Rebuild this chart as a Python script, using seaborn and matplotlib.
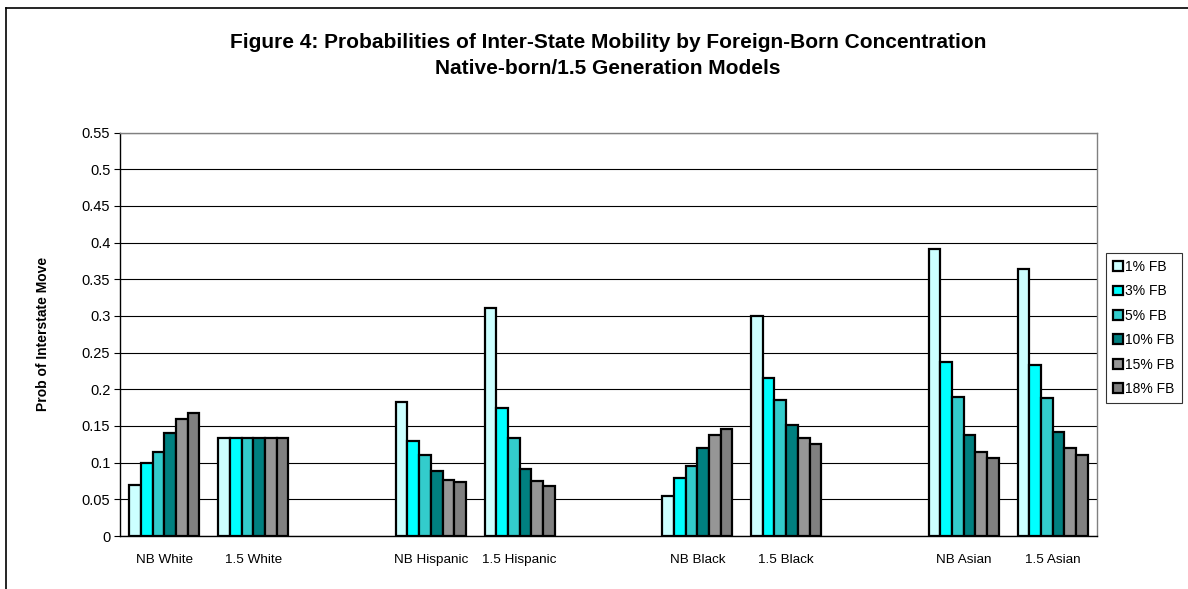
import numpy as np
import pandas as pd
import matplotlib
matplotlib.use("Agg")
import matplotlib.pyplot as plt
from matplotlib.lines import Line2D
import seaborn as sns

# categories (blank slots separate the race groups)
groups = ["NB White", "1.5 White", " ", "NB Hispanic", "1.5 Hispanic", "  ",
          "NB Black", "1.5 Black", "   ", "NB Asian", "1.5 Asian"]
data_groups = ["NB White", "1.5 White", "NB Hispanic", "1.5 Hispanic",
               "NB Black", "1.5 Black", "NB Asian", "1.5 Asian"]
levels = ["1% FB", "3% FB", "5% FB", "10% FB", "15% FB", "18% FB"]

fb1 = [0.070, 0.134, 0.183, 0.311, 0.055, 0.300, 0.391, 0.364]
fb3 = [0.099, 0.134, 0.129, 0.174, 0.079, 0.216, 0.237, 0.233]
fb5 = [0.115, 0.134, 0.110, 0.134, 0.095, 0.186, 0.189, 0.188]
fb10 = [0.141, 0.134, 0.088, 0.092, 0.120, 0.151, 0.137, 0.142]
fb15 = [0.159, 0.134, 0.077, 0.075, 0.137, 0.133, 0.115, 0.120]
fb18 = [0.168, 0.134, 0.073, 0.068, 0.146, 0.126, 0.106, 0.111]

colors = ["#CCFFFF", "#00FFFF", "#33CCCC", "#008080", "#969696", "#808080"]

rows = []
for lvl, vals in zip(levels, [fb1, fb3, fb5, fb10, fb15, fb18]):
    for g, v in zip(data_groups, vals):
        rows.append({"group": g, "level": lvl, "prob": v})
df = pd.DataFrame(rows)

plt.rcParams["font.family"] = ["Liberation Sans", "DejaVu Sans"]

fig = plt.figure(figsize=(11.88, 5.89), dpi=100)
ax = fig.add_axes([120 / 1188, 53 / 589, 977 / 1188, 403.5 / 589])

sns.barplot(data=df, x="group", y="prob", hue="level", order=groups,
            hue_order=levels, palette=colors, width=0.79, gap=0,
            edgecolor="black", linewidth=1.6, saturation=1, ax=ax,
            errorbar=None)

ax.set_ylim(0, 0.55)
ax.set_xlim(-0.5, len(groups) - 0.5)
ax.set_yticks(np.arange(0, 0.551, 0.05))
ax.set_yticklabels(["0", "0.05", "0.1", "0.15", "0.2", "0.25", "0.3",
                    "0.35", "0.4", "0.45", "0.5", "0.55"], fontsize=10.5)
ax.yaxis.grid(True, color="black", linewidth=0.8)
ax.set_axisbelow(True)
ax.tick_params(axis="y", length=4, width=0.8, direction="out", pad=3)
ax.tick_params(axis="x", length=0, labelsize=9.7, pad=13)
ax.set_xlabel("")
ax.set_ylabel("Prob of Interstate Move", fontsize=10, fontweight="bold")
ax.yaxis.set_label_coords(-70 / 977, 0.5)
for side in ["left", "bottom"]:
    ax.spines[side].set_color("black")
    ax.spines[side].set_linewidth(1.0)
for side in ["top", "right"]:
    ax.spines[side].set_color("#808080")
    ax.spines[side].set_linewidth(1.0)

handles, labels = ax.get_legend_handles_labels()
ax.legend(handles, labels, loc="upper left",
          bbox_to_anchor=(1106 / 1188, 1 - 253 / 589),
          bbox_transform=fig.transFigure, fontsize=10, frameon=True,
          fancybox=False, edgecolor="black", handlelength=0.7,
          handleheight=0.7, handletextpad=0.2, labelspacing=0.75,
          borderpad=0.5, borderaxespad=0)
ax.get_legend().get_frame().set_linewidth(0.8)

fig.text(608 / 1188, 1 - 43 / 589,
         "Figure 4: Probabilities of Inter-State Mobility by Foreign-Born Concentration",
         ha="center", va="center", fontsize=15, fontweight="bold")
fig.text(608 / 1188, 1 - 69 / 589, "Native-born/1.5 Generation Models",
         ha="center", va="center", fontsize=15, fontweight="bold")

# outer chart border (top and left visible)
fig.add_artist(Line2D([6 / 1188, 1.01], [1 - 8 / 589, 1 - 8 / 589],
                      color="black", linewidth=1.2, transform=fig.transFigure))
fig.add_artist(Line2D([6 / 1188, 6 / 1188], [1 - 8 / 589, -0.01],
                      color="black", linewidth=1.2, transform=fig.transFigure))

fig.savefig("out.png", dpi=100)
